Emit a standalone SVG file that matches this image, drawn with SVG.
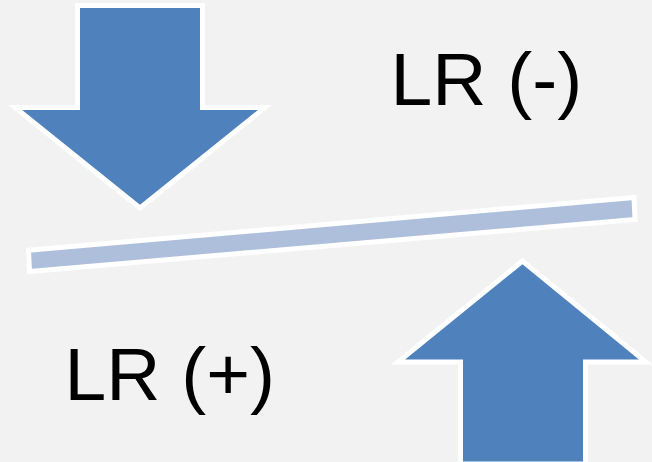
<svg xmlns="http://www.w3.org/2000/svg" width="652" height="462" viewBox="0 0 652 462">
  <style>
    .arrow { fill: #4f81bd; stroke: #ffffff; stroke-width: 5; stroke-linejoin: miter; }
    .bar { fill: #aebfdc; stroke: #ffffff; stroke-width: 5; }
    .label { font-family: "Liberation Sans", Arial, sans-serif; font-size: 75px; fill: #000000; }
  </style>
  <rect x="0" y="0" width="652" height="462" fill="#f2f2f2"/>
  <g id="arrow-down">
    <path class="arrow" d="M77.5,5.5 H202.5 V107.5 H265 L140,208 L15,107.5 H77.5 Z"/>
  </g>
  <g id="bar">
    <polygon class="bar" points="28.5,250.3 634,197.5 635,219.5 29.5,271.5"/>
  </g>
  <g id="arrow-up">
    <path class="arrow" d="M460.5,464 V362 H398 L522.5,261 L646,362 H585.5 V464 Z"/>
  </g>
  <g id="label-minus">
    <text class="label" x="390.5" y="105">LR (-)</text>
  </g>
  <g id="label-plus">
    <text class="label" x="64.5" y="400">LR (+)</text>
  </g>
</svg>
